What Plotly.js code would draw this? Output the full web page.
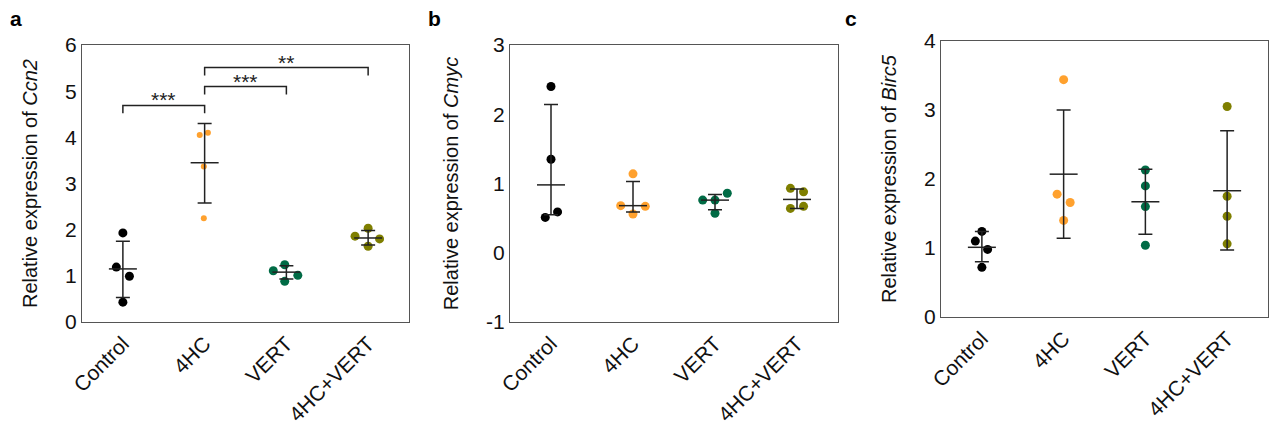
<!DOCTYPE html>
<html>
<head>
<meta charset="utf-8">
<script src="https://cdn.plot.ly/plotly-3.0.1.min.js"></script>
<style>html,body{margin:0;padding:0;background:#fff;}#chart{width:1271px;height:425px;}</style>
</head>
<body>
<div id="chart"></div>
<script>
// ---------- data ----------
const categories = ["Control", "4HC", "VERT", "4HC+VERT"];
const groupColors = ["#000000", "#FFA12E", "#006B45", "#7F7F00"];

// Panel a: Ccn2
const ccn2Points = [[1.93, 1.19, 0.99, 0.43], [4.05, 4.10, 3.37, 2.25], [1.24, 1.11, 1.01, 0.88], [2.03, 1.86, 1.80, 1.64]];
const ccn2Jitter = [[0, -0.08, 0.08, 0], [-0.06, 0.04, -0.01, -0.01], [-0.02, -0.16, 0.14, -0.02], [0, -0.16, 0.14, 0]];
const ccn2Mean = [1.15, 3.45, 1.08, 1.82];
const ccn2Upper = [1.75, 4.30, 1.22, 1.98];
const ccn2Lower = [0.53, 2.58, 0.93, 1.67];
const ccn2Ticks = ["0", "1", "2", "3", "4", "5", "6"];
const ccn2Sig = [{from: 0, to: 1, h: 4.69, label: "***"}, {from: 1, to: 2, h: 5.10, label: "***"}, {from: 1, to: 3, h: 5.51, label: "**"}];

// Panel b: Cmyc
const cmycPoints = [[2.40, 1.35, 0.59, 0.51], [1.14, 0.68, 0.67, 0.56], [0.86, 0.76, 0.76, 0.57], [0.93, 0.88, 0.67, 0.64]];
const cmycJitter = [[0, 0, 0.08, -0.07], [0, -0.15, 0.15, 0], [0.15, -0.15, 0, 0], [-0.08, 0.08, 0.08, -0.08]];
const cmycMean = [0.98, 0.68, 0.76, 0.77];
const cmycUpper = [2.14, 1.03, 0.84, 0.92];
const cmycLower = [0.55, 0.59, 0.62, 0.64];
const cmycTicks = ["-1", "0", "1", "2", "3"];

// Panel c: Birc5
const birc5Points = [[1.24, 1.10, 0.98, 0.72], [3.44, 1.78, 1.66, 1.40], [2.13, 1.90, 1.60, 1.04], [3.05, 1.75, 1.46, 1.06]];
const birc5Jitter = [[0, -0.08, 0.07, 0], [0, -0.08, 0.08, 0], [0, 0, 0, 0], [0, 0, 0, 0]];
const birc5Mean = [1.01, 2.07, 1.67, 1.83];
const birc5Upper = [1.24, 3.00, 2.14, 2.70];
const birc5Lower = [0.80, 1.14, 1.20, 0.97];
const birc5Ticks = ["0", "1", "2", "3", "4"];

// ---------- build ----------
const FONT = "Arial, 'Liberation Sans', sans-serif";
const traces = [];
const annotations = [];

function addPanel(points, jitter, mean, upper, lower, xa, ya, pointSizes) {
  points.forEach((vals, g) => {
    traces.push({
      type: "scatter", mode: "markers", xaxis: xa, yaxis: ya,
      x: vals.map((v, i) => g + jitter[g][i]), y: vals,
      marker: {color: groupColors[g], size: pointSizes[g]},
      showlegend: false, hoverinfo: "y"
    });
  });
  traces.push({
    type: "scatter", mode: "markers", xaxis: xa, yaxis: ya,
    x: categories.map((c, i) => i), y: mean,
    marker: {symbol: "line-ew", size: 20, line: {color: "#222", width: 1.5}},
    error_y: {type: "data", symmetric: false,
      array: mean.map((m, i) => upper[i] - m),
      arrayminus: mean.map((m, i) => m - lower[i]),
      color: "#222", thickness: 1.5, width: 7},
    showlegend: false, hoverinfo: "y"
  });
}

addPanel(ccn2Points, ccn2Jitter, ccn2Mean, ccn2Upper, ccn2Lower, "x", "y", [9, 6, 9, 9]);
addPanel(cmycPoints, cmycJitter, cmycMean, cmycUpper, cmycLower, "x2", "y2", [9, 9, 9, 9]);
addPanel(birc5Points, birc5Jitter, birc5Mean, birc5Upper, birc5Lower, "x3", "y3", [9, 9, 9, 9]);

const legDrop = 0.17;
ccn2Sig.forEach(s => {
  traces.push({
    type: "scatter", mode: "lines", xaxis: "x", yaxis: "y",
    x: [s.from, s.from, s.to, s.to], y: [s.h - legDrop, s.h, s.h, s.h - legDrop],
    line: {color: "#222", width: 1.5}, showlegend: false, hoverinfo: "skip"
  });
  annotations.push({xref: "x", yref: "y", x: (s.from + s.to) / 2, y: s.h,
    text: s.label, showarrow: false, yanchor: "bottom", yshift: -8,
    font: {family: FONT, size: 21, color: "#222"}});
});

function xaxisDef(domain) {
  return {domain: domain, range: [-0.5, 3.5], tickvals: [0, 1, 2, 3], ticktext: categories,
    tickangle: -45, tickfont: {family: FONT, size: 21, color: "#111"},
    showline: true, mirror: true, linecolor: "#555", linewidth: 1.2,
    showgrid: false, zeroline: false, ticks: "", fixedrange: true, automargin: false};
}
function yaxisDef(domain, range, ticks, titleHtml, anchor) {
  return {domain: domain, range: range, anchor: anchor,
    tickvals: ticks.map(Number), ticktext: ticks,
    tickfont: {family: FONT, size: 21, color: "#111"},
    showline: true, mirror: true, linecolor: "#555", linewidth: 1.2,
    showgrid: false, zeroline: false, ticks: "", automargin: false,
    title: {text: titleHtml, font: {family: FONT, size: 20, color: "#111"}, standoff: 22}};
}

const W = 1271, H = 425;
function letter(txt, px, py) {
  return {xref: "paper", yref: "paper", x: px / W, y: 1 - py / H, xanchor: "center", yanchor: "middle",
    text: "<b>" + txt + "</b>", showarrow: false, font: {family: FONT, size: 21, color: "#000"}};
}
const layout = {
  width: W, height: H, margin: {l: 0, r: 0, t: 0, b: 0},
  paper_bgcolor: "#fff", plot_bgcolor: "#fff", showlegend: false,
  xaxis: Object.assign(xaxisDef([82 / W, 409 / W]), {anchor: "y"}),
  yaxis: yaxisDef([1 - 322 / H, 1 - 45 / H], [0, 6], ccn2Ticks, "Relative expression of <i>Ccn2</i>", "x"),
  xaxis2: Object.assign(xaxisDef([510 / W, 838 / W]), {anchor: "y2"}),
  yaxis2: yaxisDef([1 - 322 / H, 1 - 45 / H], [-1, 3], cmycTicks, "Relative expression of <i>Cmyc</i>", "x2"),
  xaxis3: Object.assign(xaxisDef([941 / W, 1268 / W]), {anchor: "y3"}),
  yaxis3: yaxisDef([1 - 317 / H, 1 - 41 / H], [0, 4], birc5Ticks, "Relative expression of <i>Birc5</i>", "x3"),
  annotations: annotations.concat([letter("a", 16, 18), letter("b", 435, 18), letter("c", 851, 18)])
};

Plotly.newPlot("chart", traces, layout, {staticPlot: true, displayModeBar: false});
</script>
</body>
</html>
